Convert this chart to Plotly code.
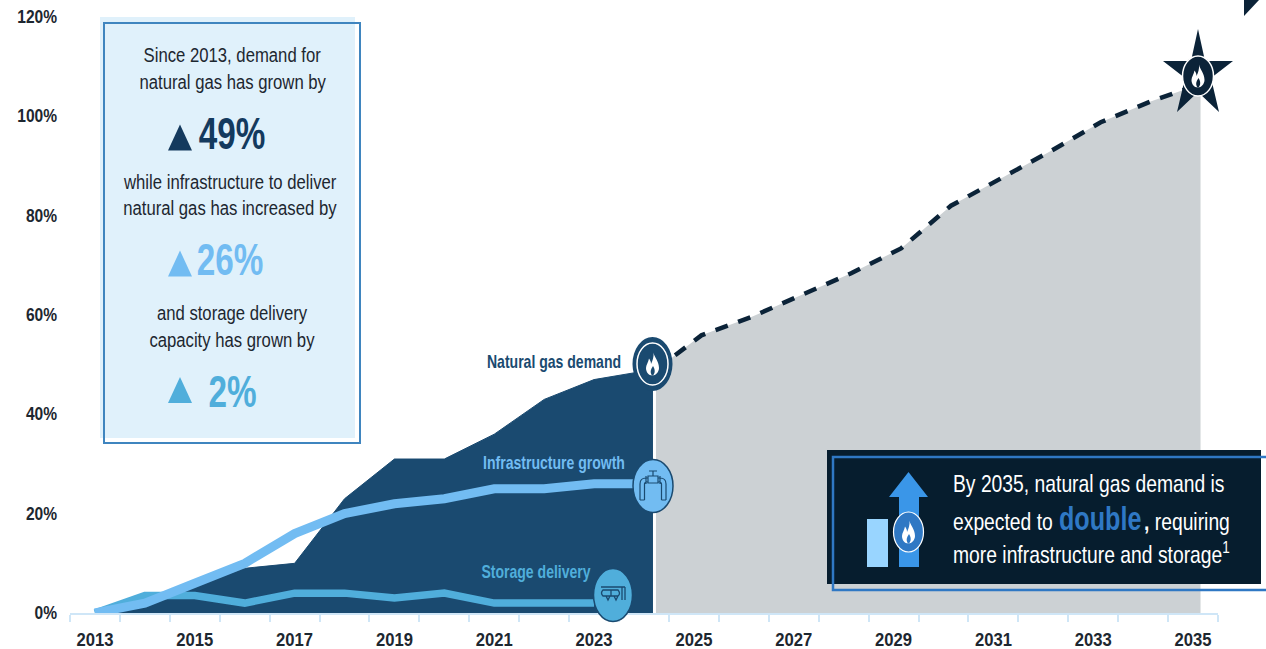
import json
import plotly.graph_objects as go

# ---- data ----
hist_years = [2013, 2014, 2015, 2016, 2017, 2018, 2019, 2020, 2021, 2022, 2023, 2024.18]
demand_hist = [0, 1.5, 5.5, 9, 10, 23, 31, 31, 36, 43, 47, 49]
forecast_years = [2024.24, 2025.15, 2026.15, 2027.15, 2028.15, 2029.15, 2030.15, 2031.15, 2032.15,
                  2033.15, 2034.15, 2035.15]
demand_forecast = [49, 55.9, 59.6, 64, 68.4, 73.4, 82, 87.5, 93, 98.8, 103, 106.5]
infra_years = [2013, 2014, 2015, 2016, 2017, 2018, 2019, 2020, 2021, 2022, 2023, 2024]
infra_growth = [0, 2, 6, 10, 16, 20, 22, 23, 25, 25, 26, 26]
storage_years = [2013, 2014, 2015, 2016, 2017, 2018, 2019, 2020, 2021, 2022, 2023]
storage_growth = [0, 3.5, 3.5, 2, 4, 4, 3, 4, 2, 2, 2]
x_tick_years = list(range(2013, 2036, 2))
y_ticks = [0, 20, 40, 60, 80, 100, 120]

NAVY = "#1a4a70"
INK = "#0b2338"
DEEP = "#061d2e"
SKY = "#72bcf2"
AQUA = "#50aedb"
GREY = "#ccd1d4"
BLUE = "#2f78c4"
FONT = "Liberation Sans, Arial, sans-serif"

# horizontal condensing applied to the labels, keyed by font size
CONDENSE = {"17.5": 0.89, "18.5": 0.9, "18": 0.78, "20": 0.835, "24": 0.805, "34": 0.74, "45": 0.74}

W, H = 1266, 649
L, R, T, B = 70, 48, 17, 36


def X(px):
    return (px - L) / (W - L - R)


def Y(px):
    return 1 - (px - T) / (H - T - B)


def rect(x0, y0, x1, y1, fill=None, line=None, width=0):
    return dict(type="rect", xref="paper", yref="paper", layer="above",
                x0=X(x0), x1=X(x1), y0=Y(y1), y1=Y(y0),
                fillcolor=fill or "rgba(0,0,0,0)",
                line=dict(color=line or "rgba(0,0,0,0)", width=width))


def ellipse(cx, cy, rx, ry, fill=None, line=None, width=0):
    return dict(type="circle", xref="paper", yref="paper", layer="above",
                x0=X(cx - rx), x1=X(cx + rx), y0=Y(cy + ry), y1=Y(cy - ry),
                fillcolor=fill or "rgba(0,0,0,0)",
                line=dict(color=line or "rgba(0,0,0,0)", width=width))


def glyph(cx, cy, path, fill=None, line=None, width=0):
    # path is given in pixels around the anchor, y pointing up
    return dict(type="path", xref="paper", yref="paper", layer="above",
                xsizemode="pixel", ysizemode="pixel",
                xanchor=X(cx), yanchor=Y(cy), path=path,
                fillcolor=fill or "rgba(0,0,0,0)",
                line=dict(color=line or "rgba(0,0,0,0)", width=width))


FLAME = ("M 1,11.5 C 1.5,7 6.5,3 6.5,-4 C 6.5,-8 3,-11.5 0,-11.5 C -4,-11.5 -6.5,-8 -6.5,-4 "
         "C -6.5,-1 -4,2 -3.5,5.5 C -2,3.5 -1.5,2 -1.5,0 C 0,3 1.5,7 1,11.5 Z")
FLAME_CORE = "M 0.5,-11.5 C 2.5,-9 3,-6 0.5,-2 C -1.5,-5 -3,-8 -0.5,-11.5 Z"
TRIANGLE = "M -12,-13 L 12,-13 L 0,13 Z"
PIPES = ("M -13,-14 L -13,2 Q -13,8 -7,8 L -5,8 M -8.5,-14 L -8.5,2 Q -8.5,4 -6,4 L -5,4 M -13,-14 L -8.5,-14 "
         "M 13,-14 L 13,2 Q 13,8 7,8 L 5,8 M 8.5,-14 L 8.5,2 Q 8.5,4 6,4 L 5,4 M 13,-14 L 8.5,-14 "
         "M -5,3 L 5,3 L 5,10 L -5,10 Z M -7,2 L -7,10 M 7,2 L 7,10 M 0,10 L 0,15 M -4,15 L 4,15")
TANKS = ("M -12,8 L 12,8 M 12,8 L 12,-5 M 9,8 L 9,-5 "
         "M -10,5 L 5,5 Q 8,1.5 5,-1 L -10,-1 Q -13,2 -10,5 Z M -2,5 L -2,-1 "
         "M -7,-1 L -5,-5 L -3,-1 M 1,-1 L 3,-5 L 5,-1")

fig = go.Figure()
fig.add_trace(go.Scatter(x=forecast_years, y=demand_forecast, mode="lines",
                         fill="tozeroy", fillcolor=GREY, cliponaxis=False,
                         line=dict(color=INK, width=4.5, dash="13px,11px"),
                         name="Forecast demand"))
fig.add_trace(go.Scatter(x=hist_years, y=demand_hist, mode="lines",
                         fill="tozeroy", fillcolor=NAVY, cliponaxis=False,
                         line=dict(color=NAVY, width=1), name="Natural gas demand"))
fig.add_trace(go.Scatter(x=storage_years, y=storage_growth, mode="lines", cliponaxis=False,
                         line=dict(color=AQUA, width=7.5), name="Storage delivery"))
fig.add_trace(go.Scatter(x=infra_years, y=infra_growth, mode="lines", cliponaxis=False,
                         line=dict(color=SKY, width=9), name="Infrastructure growth"))

shapes = [
    # summary panel on the left
    rect(100, 17, 355, 438, fill="#e0f1fb"),
    rect(104, 23, 360, 443, line="#3f85bf", width=2),
    glyph(180, 137.5, TRIANGLE, fill="#143a5e"),
    glyph(180, 263.5, TRIANGLE, fill=SKY),
    glyph(180, 390, TRIANGLE, fill=AQUA),
    # demand marker
    ellipse(652.5, 364, 20, 27, fill=NAVY),
    ellipse(652.5, 364, 15.5, 21, fill=NAVY, line="#ffffff", width=1.5),
    glyph(652.5, 364, FLAME, fill="#ffffff"),
    glyph(652.5, 364, FLAME_CORE, fill=NAVY),
    # infrastructure marker
    ellipse(653, 486, 20, 26.5, fill=SKY, line=NAVY, width=1.5),
    glyph(653, 486, PIPES, line=NAVY, width=1.2),
    # storage marker
    ellipse(613, 595, 19.5, 26.5, fill=AQUA, line=NAVY, width=1.5),
    glyph(613, 595, TANKS, line=NAVY, width=1.3),
    # forecast star
    glyph(1198, 75, "M 0,46 L 7,14 L 35,14 L 13,-3 L 21,-37 L 0,-17 L -21,-37 L -13,-3 "
          "L -35,14 L -7,14 Z", fill=INK),
    ellipse(1198, 76, 15.5, 20, fill=INK, line="#ffffff", width=1.5),
    glyph(1198, 76, FLAME, fill="#ffffff"),
    glyph(1198, 76, FLAME_CORE, fill=INK),
    # corner mark
    dict(type="path", xref="paper", yref="paper", layer="above",
         path=f"M {X(1244)},{Y(0)} L {X(1259)},{Y(0)} L {X(1244)},{Y(16)} Z",
         fillcolor=INK, line=dict(width=0)),
    # outlook panel
    rect(827, 450, 1261, 584, fill=DEEP),
    rect(833, 457, 1290, 590, line=BLUE, width=2.5),
    rect(867, 519, 888, 567, fill="#99d5ff"),
    dict(type="path", xref="paper", yref="paper", layer="above",
         path=(f"M {X(899)},{Y(567)} L {X(899)},{Y(497)} L {X(889)},{Y(497)} L {X(908.5)},{Y(472)} "
               f"L {X(928)},{Y(497)} L {X(919)},{Y(497)} L {X(919)},{Y(567)} Z"),
         fillcolor="#3a96e8", line=dict(width=0)),
    ellipse(908.5, 532, 15, 20, fill=BLUE, line="#ffffff", width=1.2),
    glyph(908.5, 532, FLAME, fill="#ffffff"),
    glyph(908.5, 532, FLAME_CORE, fill=BLUE),
]


def note(px, py, text, size, color, bold=False, anchor="center", vanchor="middle"):
    return dict(xref="paper", yref="paper", x=X(px), y=Y(py), text=f"<b>{text}</b>" if bold else text,
                showarrow=False, xanchor=anchor, yanchor=vanchor, align=anchor,
                xshift=0, yshift=0, borderpad=0, borderwidth=0,
                font=dict(family=FONT, size=size, color=color))


TEXT = "#1d2730"
annotations = [
    note(232, 55, "Since 2013, demand for", 20, TEXT),
    note(232, 82, "natural gas has grown by", 20, TEXT),
    note(232, 133, "49%", 45, "#143a5e", bold=True),
    note(230, 182, "while infrastructure to deliver", 20, TEXT),
    note(230, 208, "natural gas has increased by", 20, TEXT),
    note(230, 259, "26%", 45, SKY, bold=True),
    note(232, 313, "and storage delivery", 20, TEXT),
    note(232, 340, "capacity has grown by", 20, TEXT),
    note(232, 391, "2%", 45, AQUA, bold=True),
    note(553.5, 362, "Natural gas demand", 18, NAVY, bold=True),
    note(553.5, 463, "Infrastructure growth", 18, SKY, bold=True),
    note(535.5, 572, "Storage delivery", 18, AQUA, bold=True),
    note(953, 483, "By 2035, natural gas demand is", 24, "#ffffff", anchor="left"),
    note(953, 521, "expected to", 24, "#ffffff", anchor="left"),
    note(1059, 518, "double", 34, BLUE, bold=True, anchor="left"),
    note(1143.5, 521, "<b>,</b> requiring", 24, "#ffffff", anchor="left"),
    note(953, 553, "more infrastructure and storage<sup>1</sup>", 24, "#ffffff", anchor="left"),
]

x_tick_font = dict(family=FONT, size=18.5, color="#1d2730")
y_tick_font = dict(family=FONT, size=17.5, color="#1d2730")
fig.update_layout(
    width=W, height=H, showlegend=False,
    paper_bgcolor="#ffffff", plot_bgcolor="#ffffff",
    margin=dict(l=L, r=R, t=T, b=B, pad=0, autoexpand=False),
    shapes=shapes, annotations=annotations,
    xaxis=dict(range=[2012.5, 2035.5], tickmode="array", tickvals=x_tick_years,
               ticktext=[f"<b>{y}</b>" for y in x_tick_years], tickfont=x_tick_font,
               ticks="", showgrid=False, zeroline=False, showline=True, automargin=False,
               linecolor="#cfe6f7", linewidth=2, ticklabelstandoff=9,
               minor=dict(tickmode="linear", tick0=2012.5, dtick=1, ticks="outside",
                          ticklen=7, tickcolor="#cfe6f7", tickwidth=1.5, showgrid=False)),
    yaxis=dict(range=[0, 120], tickmode="array", tickvals=y_ticks,
               ticktext=[f"<b>{v}%</b>" for v in y_ticks], tickfont=y_tick_font,
               ticks="", showgrid=False, zeroline=False, showline=False, automargin=False,
               ticklabelstandoff=12),
)

# Narrow the labels in place around their anchor, keeping them as live SVG text.
condense_js = """
var factors = %s;
document.querySelectorAll('.main-svg text').forEach(function (t) {
  var k = factors[String(parseFloat(t.style.fontSize))];
  if (!k) { return; }
  var box = t.getBBox();
  var anchor = t.getAttribute('text-anchor') || t.style.textAnchor || 'start';
  var cx = anchor === 'middle' ? box.x + box.width / 2
         : anchor === 'end' ? box.x + box.width : box.x;
  var prior = t.getAttribute('transform') || '';
  t.setAttribute('transform', prior + ' translate(' + cx + ',0) scale(' + k + ',1) translate(' + (-cx) + ',0)');
});
""" % json.dumps(CONDENSE)

fig.write_html("out.html", config=dict(displayModeBar=False), post_script=condense_js)
